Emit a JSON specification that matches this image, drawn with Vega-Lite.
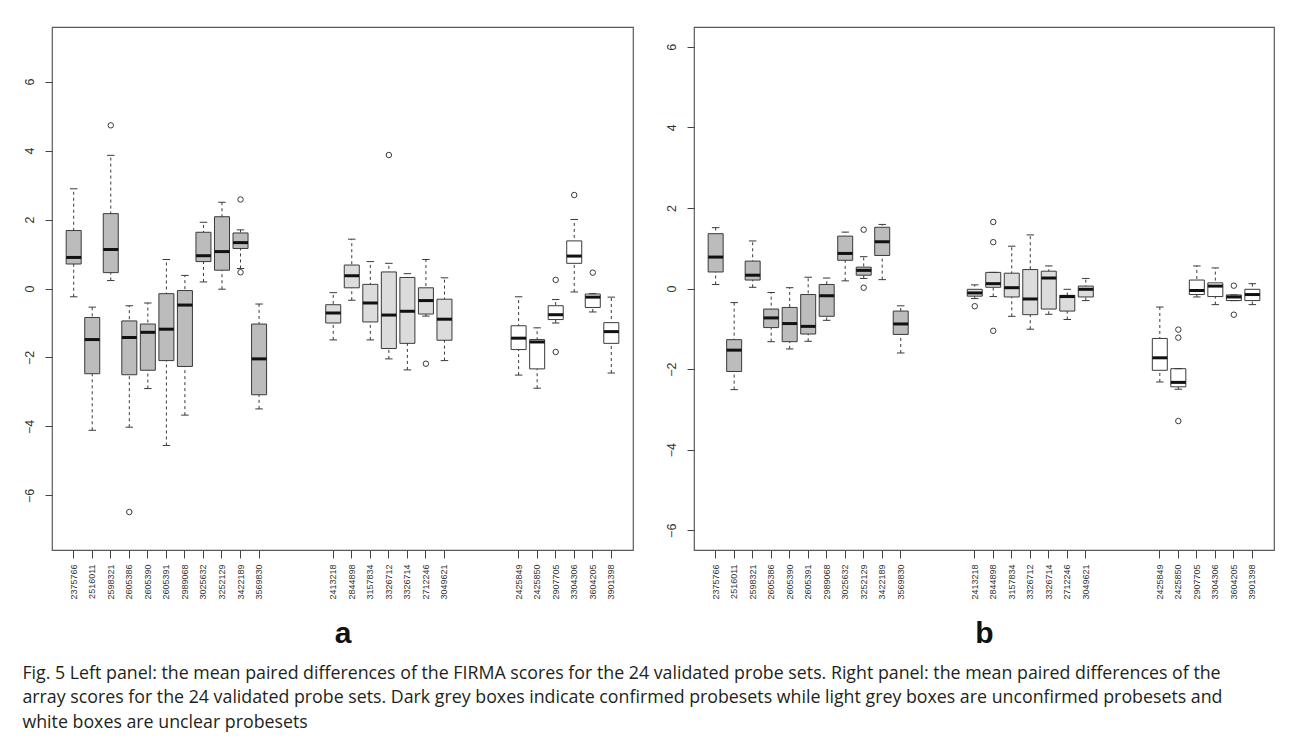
{
  "$schema": "https://vega.github.io/schema/vega-lite/v6.json",
  "background": "white",
  "padding": {"left": 22, "top": 26, "right": 20, "bottom": 14},
  "spacing": 30,
  "title": {
    "text": [
      "Fig. 5 Left panel: the mean paired differences of the FIRMA scores for the 24 validated probe sets. Right panel: the mean paired differences of the",
      "array scores for the 24 validated probe sets. Dark grey boxes indicate confirmed probesets while light grey boxes are unconfirmed probesets and",
      "white boxes are unclear probesets"
    ],
    "orient": "bottom",
    "anchor": "start",
    "font": "Open Sans",
    "fontSize": 17.8,
    "fontWeight": "normal",
    "color": "#231f20",
    "lineHeight": 24.5,
    "offset": 16
  },
  "datasets": {
    "statsA": [
      {"probe": "2375766", "status": "confirmed", "lower": -0.24, "q1": 0.71, "median": 0.90, "q3": 1.68, "upper": 2.89},
      {"probe": "2516011", "status": "confirmed", "lower": -4.11, "q1": -2.47, "median": -1.48, "q3": -0.84, "upper": -0.54},
      {"probe": "2598321", "status": "confirmed", "lower": 0.23, "q1": 0.46, "median": 1.13, "q3": 2.17, "upper": 3.86},
      {"probe": "2605386", "status": "confirmed", "lower": -4.02, "q1": -2.50, "median": -1.42, "q3": -0.94, "upper": -0.50},
      {"probe": "2605390", "status": "confirmed", "lower": -2.90, "q1": -2.37, "median": -1.27, "q3": -1.03, "upper": -0.42},
      {"probe": "2605391", "status": "confirmed", "lower": -4.55, "q1": -2.09, "median": -1.18, "q3": -0.15, "upper": 0.84},
      {"probe": "2989068", "status": "confirmed", "lower": -3.67, "q1": -2.26, "median": -0.48, "q3": -0.06, "upper": 0.38},
      {"probe": "3025632", "status": "confirmed", "lower": 0.19, "q1": 0.78, "median": 0.95, "q3": 1.63, "upper": 1.92},
      {"probe": "3252129", "status": "confirmed", "lower": -0.02, "q1": 0.53, "median": 1.07, "q3": 2.08, "upper": 2.50},
      {"probe": "3422189", "status": "confirmed", "lower": 0.58, "q1": 1.16, "median": 1.33, "q3": 1.61, "upper": 1.70},
      {"probe": "3569830", "status": "confirmed", "lower": -3.49, "q1": -3.08, "median": -2.04, "q3": -1.03, "upper": -0.45},
      {"probe": "2413218", "status": "unconfirmed", "lower": -1.49, "q1": -1.00, "median": -0.71, "q3": -0.47, "upper": -0.12},
      {"probe": "2844898", "status": "unconfirmed", "lower": -0.34, "q1": 0.02, "median": 0.37, "q3": 0.68, "upper": 1.43},
      {"probe": "3157834", "status": "unconfirmed", "lower": -1.49, "q1": -0.97, "median": -0.42, "q3": 0.12, "upper": 0.78},
      {"probe": "3326712", "status": "unconfirmed", "lower": -2.04, "q1": -1.74, "median": -0.77, "q3": 0.48, "upper": 0.73},
      {"probe": "3326714", "status": "unconfirmed", "lower": -2.36, "q1": -1.59, "median": -0.66, "q3": 0.32, "upper": 0.43},
      {"probe": "2712246", "status": "unconfirmed", "lower": -0.80, "q1": -0.74, "median": -0.35, "q3": 0.02, "upper": 0.84},
      {"probe": "3049621", "status": "unconfirmed", "lower": -2.09, "q1": -1.50, "median": -0.89, "q3": -0.31, "upper": 0.31},
      {"probe": "2425849", "status": "unclear", "lower": -2.51, "q1": -1.77, "median": -1.44, "q3": -1.08, "upper": -0.24},
      {"probe": "2425850", "status": "unclear", "lower": -2.89, "q1": -2.33, "median": -1.55, "q3": -1.48, "upper": -1.14},
      {"probe": "2907705", "status": "unclear", "lower": -1.00, "q1": -0.90, "median": -0.76, "q3": -0.50, "upper": -0.32},
      {"probe": "3304306", "status": "unclear", "lower": -0.10, "q1": 0.73, "median": 0.94, "q3": 1.38, "upper": 2.00},
      {"probe": "3604205", "status": "unclear", "lower": -0.68, "q1": -0.55, "median": -0.25, "q3": -0.16, "upper": -0.15},
      {"probe": "3901398", "status": "unclear", "lower": -2.45, "q1": -1.59, "median": -1.25, "q3": -0.99, "upper": -0.25}
    ],
    "outA": [
      {"probe": "2598321", "value": 4.73},
      {"probe": "2605386", "value": -6.48},
      {"probe": "3422189", "value": 2.58},
      {"probe": "3422189", "value": 0.47},
      {"probe": "3326712", "value": 3.87},
      {"probe": "2712246", "value": -2.18},
      {"probe": "2907705", "value": 0.25},
      {"probe": "2907705", "value": -1.84},
      {"probe": "3304306", "value": 2.71},
      {"probe": "3604205", "value": 0.46}
    ],
    "statsB": [
      {"probe": "2375766", "status": "confirmed", "lower": 0.10, "q1": 0.41, "median": 0.78, "q3": 1.36, "upper": 1.51},
      {"probe": "2516011", "status": "confirmed", "lower": -2.51, "q1": -2.06, "median": -1.53, "q3": -1.27, "upper": -0.35},
      {"probe": "2598321", "status": "confirmed", "lower": 0.03, "q1": 0.21, "median": 0.33, "q3": 0.68, "upper": 1.18},
      {"probe": "2605386", "status": "confirmed", "lower": -1.32, "q1": -0.97, "median": -0.73, "q3": -0.51, "upper": -0.10},
      {"probe": "2605390", "status": "confirmed", "lower": -1.50, "q1": -1.32, "median": -0.87, "q3": -0.47, "upper": 0.02},
      {"probe": "2605391", "status": "confirmed", "lower": -1.31, "q1": -1.13, "median": -0.94, "q3": -0.15, "upper": 0.28},
      {"probe": "2989068", "status": "confirmed", "lower": -0.79, "q1": -0.69, "median": -0.18, "q3": 0.10, "upper": 0.26},
      {"probe": "3025632", "status": "confirmed", "lower": 0.19, "q1": 0.70, "median": 0.87, "q3": 1.30, "upper": 1.40},
      {"probe": "3252129", "status": "confirmed", "lower": 0.25, "q1": 0.33, "median": 0.45, "q3": 0.53, "upper": 0.79},
      {"probe": "3422189", "status": "confirmed", "lower": 0.22, "q1": 0.82, "median": 1.16, "q3": 1.52, "upper": 1.59},
      {"probe": "3569830", "status": "confirmed", "lower": -1.60, "q1": -1.14, "median": -0.88, "q3": -0.56, "upper": -0.43},
      {"probe": "2413218", "status": "unconfirmed", "lower": -0.25, "q1": -0.19, "median": -0.11, "q3": -0.02, "upper": 0.09},
      {"probe": "2844898", "status": "unconfirmed", "lower": -0.20, "q1": 0.03, "median": 0.12, "q3": 0.40, "upper": 0.40},
      {"probe": "3157834", "status": "unconfirmed", "lower": -0.69, "q1": -0.21, "median": 0.02, "q3": 0.38, "upper": 1.05},
      {"probe": "3326712", "status": "unconfirmed", "lower": -1.01, "q1": -0.65, "median": -0.26, "q3": 0.47, "upper": 1.33},
      {"probe": "3326714", "status": "unconfirmed", "lower": -0.64, "q1": -0.51, "median": 0.26, "q3": 0.43, "upper": 0.56},
      {"probe": "2712246", "status": "unconfirmed", "lower": -0.77, "q1": -0.56, "median": -0.20, "q3": -0.17, "upper": -0.02},
      {"probe": "3049621", "status": "unconfirmed", "lower": -0.30, "q1": -0.21, "median": -0.02, "q3": 0.06, "upper": 0.25},
      {"probe": "2425849", "status": "unclear", "lower": -2.32, "q1": -2.03, "median": -1.72, "q3": -1.24, "upper": -0.46},
      {"probe": "2425850", "status": "unclear", "lower": -2.50, "q1": -2.44, "median": -2.33, "q3": -1.99, "upper": -1.99},
      {"probe": "2907705", "status": "unclear", "lower": -0.21, "q1": -0.15, "median": -0.05, "q3": 0.21, "upper": 0.56},
      {"probe": "3304306", "status": "unclear", "lower": -0.40, "q1": -0.20, "median": 0.06, "q3": 0.14, "upper": 0.51},
      {"probe": "3604205", "status": "unclear", "lower": -0.30, "q1": -0.30, "median": -0.21, "q3": -0.16, "upper": -0.16},
      {"probe": "3901398", "status": "unclear", "lower": -0.40, "q1": -0.30, "median": -0.15, "q3": -0.02, "upper": 0.12}
    ],
    "outB": [
      {"probe": "3252129", "value": 1.46},
      {"probe": "3252129", "value": 0.02},
      {"probe": "2413218", "value": -0.44},
      {"probe": "2844898", "value": 1.65},
      {"probe": "2844898", "value": 1.15},
      {"probe": "2844898", "value": -1.05},
      {"probe": "2425850", "value": -1.02},
      {"probe": "2425850", "value": -1.22},
      {"probe": "2425850", "value": -3.29},
      {"probe": "3604205", "value": 0.07},
      {"probe": "3604205", "value": -0.65}
    ]
  },
  "hconcat": [
    {
      "width": 581,
      "height": 523,
      "data": {"name": "statsA"},
      "encoding": {
        "x": {
          "field": "probe",
          "type": "nominal",
          "sort": null,
          "scale": {
            "domain": ["2375766","2516011","2598321","2605386","2605390","2605391","2989068","3025632","3252129","3422189","3569830"," ","  ","   ","2413218","2844898","3157834","3326712","3326714","2712246","3049621","    ","     ","      ","2425849","2425850","2907705","3304306","3604205","3901398"],
            "paddingInner": 0,
            "paddingOuter": 0.67
          },
          "axis": {
            "values": ["2375766","2516011","2598321","2605386","2605390","2605391","2989068","3025632","3252129","3422189","3569830","2413218","2844898","3157834","3326712","3326714","2712246","3049621","2425849","2425850","2907705","3304306","3604205","3901398"],
            "title": "a"
          }
        }
      },
      "layer": [
        {
          "mark": {"type": "rule", "strokeDash": [3, 3], "stroke": "#3a3a3a", "strokeWidth": 1},
          "encoding": {
            "y": {"field": "lower", "type": "quantitative", "scale": {"domain": [-7.58, 7.58], "nice": false, "zero": false}, "axis": {"values": [-6, -4, -2, 0, 2, 4, 6], "title": null}},
            "y2": {"field": "upper"}
          }
        },
        {
          "mark": {"type": "bar", "width": {"band": 0.81}, "stroke": "#3a3a3a", "strokeWidth": 1},
          "encoding": {
            "y": {"field": "q1", "type": "quantitative"},
            "y2": {"field": "q3"},
            "fill": {"field": "status", "type": "nominal", "scale": {"domain": ["confirmed", "unconfirmed", "unclear"], "range": ["#bcbcbc", "#dcdcdc", "#ffffff"]}, "legend": null}
          }
        },
        {
          "mark": {"type": "tick", "size": 15, "thickness": 3, "color": "#111111", "opacity": 1},
          "encoding": {"y": {"field": "median", "type": "quantitative"}}
        },
        {
          "mark": {"type": "tick", "size": 7.5, "thickness": 1, "color": "#3a3a3a", "opacity": 1},
          "encoding": {"y": {"field": "lower", "type": "quantitative"}}
        },
        {
          "mark": {"type": "tick", "size": 7.5, "thickness": 1, "color": "#3a3a3a", "opacity": 1},
          "encoding": {"y": {"field": "upper", "type": "quantitative"}}
        },
        {
          "data": {"name": "outA"},
          "mark": {"type": "point", "shape": "circle", "filled": false, "size": 30, "stroke": "#3a3a3a", "strokeWidth": 1, "opacity": 1},
          "encoding": {"y": {"field": "value", "type": "quantitative"}}
        }
      ]
    },
    {
      "width": 580,
      "height": 523,
      "data": {"name": "statsB"},
      "encoding": {
        "x": {
          "field": "probe",
          "type": "nominal",
          "sort": null,
          "scale": {
            "domain": ["2375766","2516011","2598321","2605386","2605390","2605391","2989068","3025632","3252129","3422189","3569830"," ","  ","   ","2413218","2844898","3157834","3326712","3326714","2712246","3049621","    ","     ","      ","2425849","2425850","2907705","3304306","3604205","3901398"],
            "paddingInner": 0,
            "paddingOuter": 0.67
          },
          "axis": {
            "values": ["2375766","2516011","2598321","2605386","2605390","2605391","2989068","3025632","3252129","3422189","3569830","2413218","2844898","3157834","3326712","3326714","2712246","3049621","2425849","2425850","2907705","3304306","3604205","3901398"],
            "title": "b"
          }
        }
      },
      "layer": [
        {
          "mark": {"type": "rule", "strokeDash": [3, 3], "stroke": "#3a3a3a", "strokeWidth": 1},
          "encoding": {
            "y": {"field": "lower", "type": "quantitative", "scale": {"domain": [-6.49, 6.49], "nice": false, "zero": false}, "axis": {"values": [-6, -4, -2, 0, 2, 4, 6], "title": null}},
            "y2": {"field": "upper"}
          }
        },
        {
          "mark": {"type": "bar", "width": {"band": 0.81}, "stroke": "#3a3a3a", "strokeWidth": 1},
          "encoding": {
            "y": {"field": "q1", "type": "quantitative"},
            "y2": {"field": "q3"},
            "fill": {"field": "status", "type": "nominal", "scale": {"domain": ["confirmed", "unconfirmed", "unclear"], "range": ["#bcbcbc", "#dcdcdc", "#ffffff"]}, "legend": null}
          }
        },
        {
          "mark": {"type": "tick", "size": 15, "thickness": 3, "color": "#111111", "opacity": 1},
          "encoding": {"y": {"field": "median", "type": "quantitative"}}
        },
        {
          "mark": {"type": "tick", "size": 7.5, "thickness": 1, "color": "#3a3a3a", "opacity": 1},
          "encoding": {"y": {"field": "lower", "type": "quantitative"}}
        },
        {
          "mark": {"type": "tick", "size": 7.5, "thickness": 1, "color": "#3a3a3a", "opacity": 1},
          "encoding": {"y": {"field": "upper", "type": "quantitative"}}
        },
        {
          "data": {"name": "outB"},
          "mark": {"type": "point", "shape": "circle", "filled": false, "size": 30, "stroke": "#3a3a3a", "strokeWidth": 1, "opacity": 1},
          "encoding": {"y": {"field": "value", "type": "quantitative"}}
        }
      ]
    }
  ],
  "resolve": {"scale": {"fill": "shared"}},
  "config": {
    "view": {"stroke": "#5a5a5a", "strokeWidth": 1.2},
    "axis": {
      "grid": false,
      "domain": false,
      "tickColor": "#444444",
      "labelFont": "Liberation Sans",
      "labelColor": "#333333"
    },
    "axisY": {
      "tickSize": 7,
      "labelFontSize": 12.5,
      "labelAngle": -90,
      "labelAlign": "center",
      "labelBaseline": "bottom",
      "labelPadding": 9
    },
    "axisX": {
      "tickSize": 8,
      "labelFontSize": 9,
      "labelAngle": -90,
      "labelAlign": "right",
      "labelBaseline": "middle",
      "labelPadding": 6,
      "titleFont": "Liberation Sans",
      "titleFontSize": 30,
      "titleFontWeight": "bold",
      "titleColor": "#111111",
      "titlePadding": 19
    }
  }
}
